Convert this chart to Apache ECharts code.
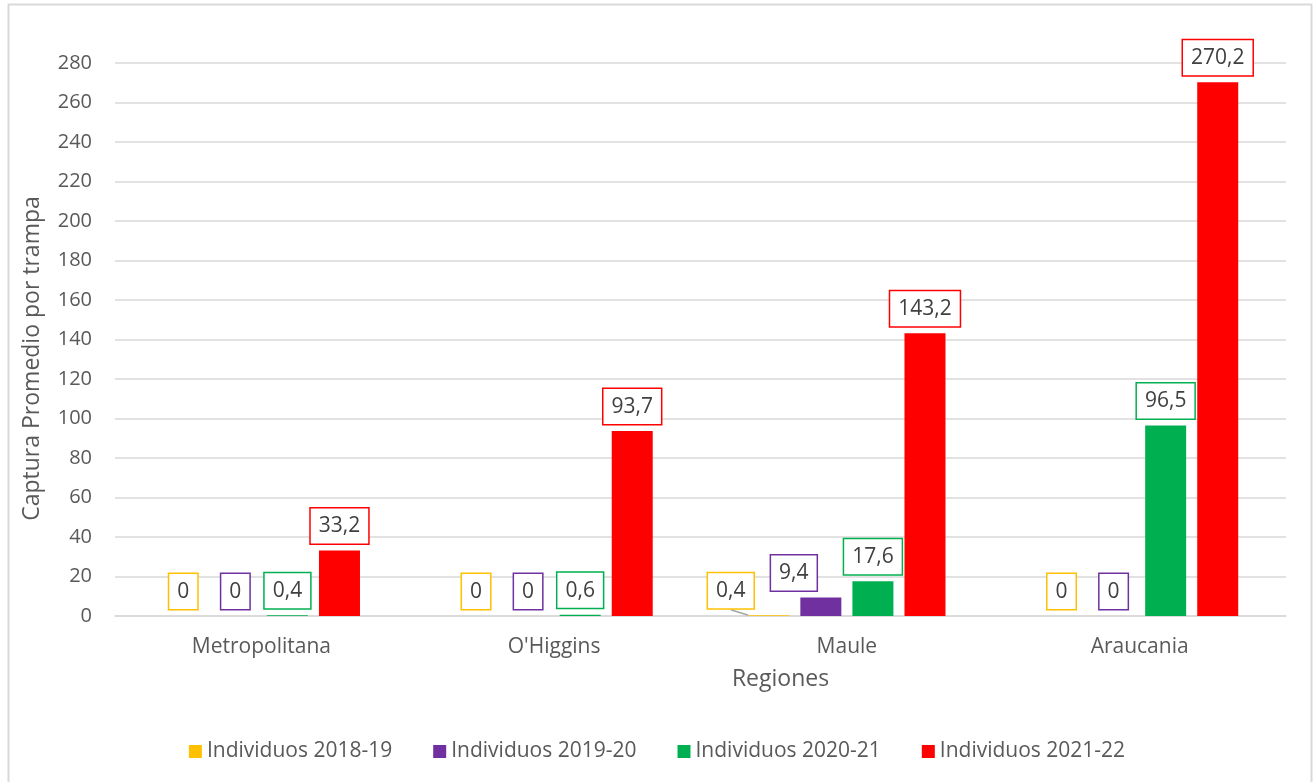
<!DOCTYPE html>
<html>
<head>
<meta charset="utf-8">
<script src="https://cdn.jsdelivr.net/npm/echarts@6/dist/echarts.min.js"></script>
<style>
  html, body { margin: 0; padding: 0; background: #fff; }
  #chart { width: 1314px; height: 782px; }
</style>
</head>
<body>
<div id="chart"></div>
<script>
// datos del gráfico
var regiones = ['Metropolitana', "O'Higgins", 'Maule', 'Araucania'];
var temporadas = ['Individuos 2018-19', 'Individuos 2019-20', 'Individuos 2020-21', 'Individuos 2021-22'];
var ind1819 = [0, 0, 0.4, 0];
var ind1920 = [0, 0, 9.4, 0];
var ind2021 = [0.4, 0.6, 17.6, 96.5];
var ind2122 = [33.2, 93.7, 143.2, 270.2];
var yTicks = { min: 0, max: 280, interval: 20 };

var colores = ['#FFC000', '#7030A0', '#00B050', '#FF0000'];
var valores = [ind1819, ind1920, ind2021, ind2122];

var myChart = echarts.init(document.getElementById('chart'));

function etiqueta(color) {
  return {
    show: true,
    position: 'top',
    distance: 7,
    color: '#404040',
    fontSize: 21,
    lineHeight: 22,
    fontFamily: 'Open Sans, sans-serif',
    backgroundColor: '#fff',
    borderColor: color,
    borderWidth: 1.5,
    padding: [7, 8, 6, 8],
    formatter: function (p) { return String(p.value).replace('.', ','); }
  };
}

var series = valores.map(function (data, i) {
  return {
    name: temporadas[i],
    type: 'bar',
    barWidth: 41,
    barGap: '27%',
    data: data.map(function (v) { return { value: v }; }),
    itemStyle: { color: colores[i] },
    label: etiqueta(colores[i]),
    labelLine: { show: false }
  };
});

// etiquetas desplazadas en Maule (como en Excel)
series[0].data[2].labelLine = { show: true, lineStyle: { color: '#a6a6a6', width: 1.5 } };
series[0].labelLayout = function (p) {
  if (p.dataIndex === 2) return { dx: -38 };
  return {};
};
series[1].labelLayout = function (p) {
  if (p.dataIndex === 2) return { dx: -27 };
  return {};
};

var option = {
  animation: false,
  textStyle: { fontFamily: 'Open Sans, sans-serif' },
  graphic: [{
    type: 'rect',
    shape: { x: 8.5, y: 4.5, width: 1303, height: 800 },
    style: { fill: 'none', stroke: '#d9d9d9', lineWidth: 2 },
    silent: true
  }],
  legend: {
    data: temporadas,
    top: 736,
    left: 'center',
    itemWidth: 13,
    itemHeight: 13,
    itemGap: 41,
    icon: 'rect',
    textStyle: { color: '#595959', fontSize: 21 }
  },
  grid: {
    left: 115,
    right: 28,
    top: 63,
    bottom: 166
  },
  xAxis: {
    type: 'category',
    data: regiones,
    name: 'Regiones',
    nameLocation: 'middle',
    nameGap: 52,
    nameTextStyle: { color: '#595959', fontSize: 23, padding: [0, 0, 0, 160] },
    axisTick: { show: false },
    axisLine: { lineStyle: { color: '#d9d9d9', width: 1.5 } },
    axisLabel: { color: '#595959', fontSize: 21, margin: 21 }
  },
  yAxis: {
    type: 'value',
    min: yTicks.min,
    max: yTicks.max,
    interval: yTicks.interval,
    name: 'Captura Promedio por trampa',
    nameLocation: 'middle',
    nameGap: 71,
    nameTextStyle: { color: '#595959', fontSize: 23, padding: [0, 38, 0, 0] },
    axisLine: { show: false },
    axisTick: { show: false },
    axisLabel: { color: '#595959', fontSize: 20, margin: 23 },
    splitLine: { lineStyle: { color: '#d9d9d9', width: 1.5 } }
  },
  series: series
};

myChart.setOption(option);
</script>
</body>
</html>
